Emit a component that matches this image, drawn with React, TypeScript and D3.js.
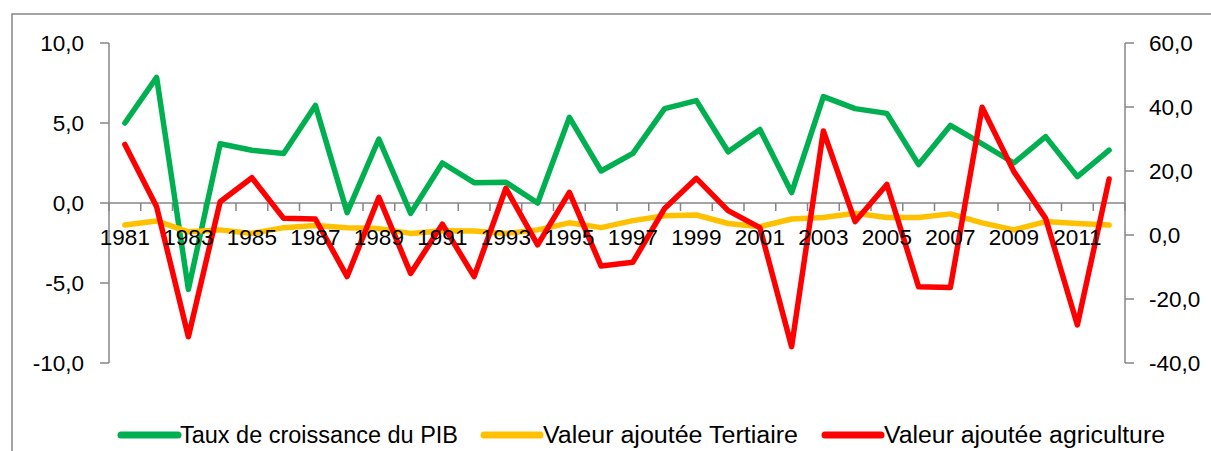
import React from "react";
import * as d3 from "d3";

const years: number[] = [
  1981, 1982, 1983, 1984, 1985, 1986, 1987, 1988, 1989, 1990, 1991, 1992, 1993, 1994, 1995, 1996,
  1997, 1998, 1999, 2000, 2001, 2002, 2003, 2004, 2005, 2006, 2007, 2008, 2009, 2010, 2011, 2012,
];

// Left axis
const pibGrowth: number[] = [
  5.0, 7.85, -5.4, 3.7, 3.3, 3.1, 6.1, -0.6, 4.0, -0.65, 2.5, 1.27, 1.3, 0.0, 5.35, 2.0,
  3.1, 5.9, 6.4, 3.2, 4.6, 0.65, 6.65, 5.9, 5.6, 2.4, 4.85, 3.7, 2.5, 4.15, 1.65, 3.3,
];

// Right axis
const tertiaire: number[] = [
  3.1, 4.4, 1.0, 1.6, 0.5, 2.3, 3.0, 2.3, 2.0, 0.5, 1.3, 1.25, 0.5, 1.6, 3.8, 2.3,
  4.5, 6.0, 6.25, 3.6, 2.6, 5.0, 5.5, 6.8, 5.5, 5.5, 6.6, 3.8, 1.6, 4.2, 3.6, 3.1,
];

// Right axis
const agriculture: number[] = [
  28.3, 8.8, -31.8, 10.4, 17.9, 5.2, 5.0, -13.0, 11.8, -12.0, 3.4, -13.0, 14.6, -3.1, 13.3, -9.7,
  -8.5, 8.3, 17.7, 7.6, 2.3, -34.9, 32.5, 4.2, 15.8, -16.2, -16.4, 39.9, 19.8, 5.2, -28.1, 17.5,
];

const leftTicks: number[] = [-10, -5, 0, 5, 10];
const rightTicks: number[] = [-40, -20, 0, 20, 40, 60];
const legendLabels: string[] = [
  "Taux de croissance du PIB",
  "Valeur ajoutée Tertiaire",
  "Valeur ajoutée agriculture",
];

const W = 1211;
const H = 451;
const FONT = "'Liberation Sans', Arial, sans-serif";
const AXIS = "#868686";

const fmt = (v: number) => d3.format(".1f")(v).replace(".", ",").replace("\u2212", "-");

export default function App() {
  const x = d3.scaleBand<number>().domain(years).range([109, 1125]).padding(0);
  const yL = d3.scaleLinear().domain([-10, 10]).range([363, 43]);
  const yR = d3.scaleLinear().domain([-40, 60]).range([363, 43]);
  const cx = (y: number) => (x(y) as number) + x.bandwidth() / 2;

  const lineL = d3
    .line<number>()
    .x((_, i) => cx(years[i]))
    .y((d) => yL(d));
  const lineR = d3
    .line<number>()
    .x((_, i) => cx(years[i]))
    .y((d) => yR(d));

  const axisY = yL(0);
  const boundaries = years.map((y) => x(y) as number).concat([x.range()[1]]);

  const series = [
    { data: pibGrowth, line: lineL, color: "#00B050" },
    { data: tertiaire, line: lineR, color: "#FFC000" },
    { data: agriculture, line: lineR, color: "#FF0000" },
  ];

  const legend = [
    { x0: 121, x1: 178, tx: 180, tl: 278, color: "#00B050" },
    { x0: 484, x1: 540, tx: 543, tl: 255, color: "#FFC000" },
    { x0: 825, x1: 881, tx: 884, tl: 281, color: "#FF0000" },
  ];

  return (
    <svg
      width={W}
      height={H}
      style={{ position: "absolute", left: 0, top: 0, display: "block", background: "#fff" }}
      fontFamily={FONT}
    >
      <rect x={12} y={14} width={W + 20} height={H + 20} fill="#fff" stroke={AXIS} strokeWidth={1.5} />

      {/* Left axis */}
      <line x1={109} x2={109} y1={yL(10)} y2={yL(-10)} stroke={AXIS} strokeWidth={1.5} />
      {leftTicks.map((t) => (
        <g key={"l" + t}>
          <line x1={100} x2={109} y1={yL(t)} y2={yL(t)} stroke={AXIS} strokeWidth={1.5} />
          <text x={84} y={yL(t)} dy="0.35em" textAnchor="end" fontSize={22.5} fill="#000">
            {fmt(t)}
          </text>
        </g>
      ))}

      {/* Right axis */}
      <line x1={1125} x2={1125} y1={yR(60)} y2={yR(-40)} stroke={AXIS} strokeWidth={1.5} />
      {rightTicks.map((t) => (
        <g key={"r" + t}>
          <line x1={1125} x2={1134} y1={yR(t)} y2={yR(t)} stroke={AXIS} strokeWidth={1.5} />
          <text x={1149} y={yR(t)} dy="0.35em" textAnchor="start" fontSize={22.5} fill="#000">
            {fmt(t)}
          </text>
        </g>
      ))}

      {/* Category axis */}
      <line x1={109} x2={1125} y1={axisY} y2={axisY} stroke={AXIS} strokeWidth={1.5} />
      {boundaries.map((b, i) => (
        <line key={"b" + i} x1={b} x2={b} y1={axisY} y2={axisY + 8} stroke={AXIS} strokeWidth={1.5} />
      ))}

      {/* Series */}
      {series.map((s, i) => (
        <path
          key={"s" + i}
          d={s.line(s.data) as string}
          fill="none"
          stroke={s.color}
          strokeWidth={5.5}
          strokeLinejoin="round"
          strokeLinecap="round"
        />
      ))}

      {/* Year labels (drawn over lines like Excel) */}
      {years
        .filter((_, i) => i % 2 === 0)
        .map((y) => (
          <text key={"y" + y} x={cx(y)} y={245} textAnchor="middle" fontSize={22.5} fill="#000">
            {y}
          </text>
        ))}

      {/* Legend */}
      {legend.map((l, i) => (
        <g key={"lg" + i}>
          <line x1={l.x0} x2={l.x1} y1={435} y2={435} stroke={l.color} strokeWidth={7} strokeLinecap="round" />
          <text
            x={l.tx}
            y={443}
            fontSize={23}
            fill="#000"
            textLength={l.tl}
            lengthAdjust="spacingAndGlyphs"
          >
            {legendLabels[i]}
          </text>
        </g>
      ))}
    </svg>
  );
}
